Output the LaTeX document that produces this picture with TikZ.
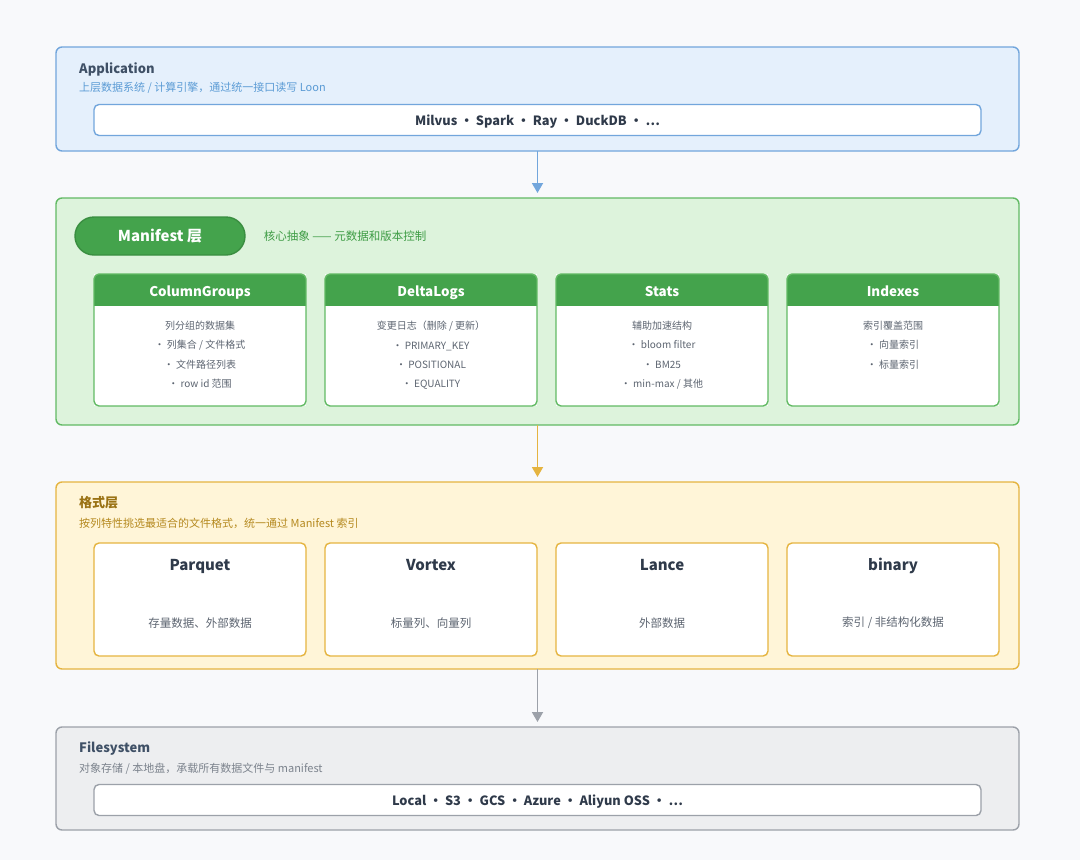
\documentclass[tikz,border=0pt]{standalone}
\usepackage{fontspec}
\setmainfont{Noto Sans CJK SC}
\usepackage{tikz}
\usetikzlibrary{positioning,arrows.meta}
\usepackage{xcolor}
\definecolor{bgpage}{HTML}{F8F9FB}
\definecolor{appfill}{HTML}{E5F0FC}
\definecolor{appline}{HTML}{72A6DC}
\definecolor{apptext}{HTML}{5B9BD5}
\definecolor{mffill}{HTML}{DDF3DC}
\definecolor{mfline}{HTML}{62BA64}
\definecolor{mfdark}{HTML}{44A34C}
\definecolor{mfedge}{HTML}{3A8E41}
\definecolor{mftext}{HTML}{3E9C45}
\definecolor{fmfill}{HTML}{FFF5D8}
\definecolor{fmline}{HTML}{E5B440}
\definecolor{fmtitle}{HTML}{9A7214}
\definecolor{fmtext}{HTML}{B5891F}
\definecolor{fsfill}{HTML}{EDEEF0}
\definecolor{fsline}{HTML}{9CA1A9}
\definecolor{fstext}{HTML}{7C838D}
\definecolor{ink}{HTML}{2F3A4A}
\definecolor{titleink}{HTML}{3F5066}
\definecolor{bodyink}{HTML}{5D6571}

\tikzset{
  layer/.style={line width=1.4pt, rounded corners=6pt, anchor=north west,
    minimum width=963pt, inner sep=0pt, outer sep=0pt},
  layertitle/.style={anchor=west, inner sep=0pt, font=\bfseries\fontsize{13}{15}\selectfont},
  layernote/.style={anchor=west, inner sep=0pt, font=\fontsize{11}{13}\selectfont},
  itembox/.style={fill=white, line width=1.4pt, rounded corners=5pt, minimum width=887pt,
    minimum height=31pt, inner sep=0pt, text depth=0pt, text=ink,
    font=\bfseries\fontsize{12.8}{15}\selectfont},
  card/.style={fill=white, minimum width=212pt, minimum height=#1, inner sep=0pt, outer sep=0pt},
  cardhead/.style={anchor=base, inner sep=0pt, text=white, font=\bfseries\fontsize{13.4}{16}\selectfont},
  cardbody/.style={anchor=north, inner sep=0pt, align=center, text=bodyink,
    font=\fontsize{10}{19.3}\selectfont},
  fmthead/.style={anchor=base, inner sep=0pt, text=ink, font=\bfseries\fontsize{15}{18}\selectfont},
  fmtbody/.style={inner sep=0pt, text=bodyink, font=\fontsize{11.5}{14}\selectfont},
  flow/.style={->, line width=1.8pt, shorten >=5pt}
}

\begin{document}
\begin{tikzpicture}[x=1pt, y=-1pt, >={Triangle[length=10pt,width=11pt]}]
\useasboundingbox[fill=bgpage] (0,0) rectangle (1080,860);

% Application
\node[layer, draw=appline, fill=appfill, minimum height=104pt] (app) at (56,47) {};
\node[layertitle, text=titleink] (apptitle) at (79,69) {Application};
\node[layernote, text=apptext] (appnote) at (79,88) {上层数据系统 / 计算引擎，通过统一接口读写 Loon};
\node[itembox, draw=appline] (appitems) at (537.5,120) {Milvus · Spark · Ray · DuckDB · ⋯};

% Manifest
\node[layer, draw=mfline, fill=mffill, minimum height=227pt] (mfst) at (56,198) {};
\node[draw=mfedge, fill=mfdark, line width=1.4pt, rounded corners=19pt, minimum width=170pt,
  minimum height=38pt, text=white, font=\bfseries\fontsize{15}{18}\selectfont] (mfsttag) at (160,236) {Manifest 层};
\node[layernote, text=mftext, font=\fontsize{11.5}{13}\selectfont, right=18pt of mfsttag] (mfstnote) {核心抽象 —— 元数据和版本控制};

\foreach \nm/\cx/\hd/\bd in {
    cg/200/ColumnGroups/{列分组的数据集\\· 列集合 / 文件格式\\· 文件路径列表\\· row id 范围},
    dl/431/DeltaLogs/{变更日志（删除 / 更新）\\· PRIMARY\_KEY\\· POSITIONAL\\· EQUALITY},
    st/662/Stats/{辅助加速结构\\· bloom filter\\· BM25\\· min-max / 其他},
    ix/893/Indexes/{索引覆盖范围\\· 向量索引\\· 标量索引}}{
  \node[card=132pt] (\nm) at (\cx,340) {};
  \begin{scope}
    \clip[rounded corners=5pt] (\nm.south west) rectangle (\nm.north east);
    \fill[mfdark] (\nm.north west) rectangle ([yshift=-32pt]\nm.north east);
  \end{scope}
  \draw[mfline, line width=1.4pt, rounded corners=5pt] (\nm.south west) rectangle (\nm.north east);
  \node[cardhead] (\nm-hd) at (\cx,296) {\hd};
  \node[cardbody] (\nm-bd) at (\cx,321) {\bd};
}

% 格式层
\node[layer, draw=fmline, fill=fmfill, minimum height=187pt] (fmt) at (56,482) {};
\node[layertitle, text=fmtitle] (fmttitle) at (79,503) {格式层};
\node[layernote, text=fmtext] (fmtnote) at (79,523) {按列特性挑选最适合的文件格式，统一通过 Manifest 索引};

\foreach \nm/\cx/\hd/\bd in {
    pq/200/Parquet/存量数据、外部数据,
    vx/431/Vortex/标量列、向量列,
    lc/662/Lance/外部数据,
    bn/893/binary/{索引 / 非结构化数据}}{
  \node[card=113pt, draw=fmline, line width=1.4pt, rounded corners=5pt] (\nm) at (\cx,599.5) {};
  \node[fmthead] (\nm-hd) at (\cx,570.5) {\hd};
  \node[fmtbody] (\nm-bd) at (\cx,623) {\bd};
}

% Filesystem
\node[layer, draw=fsline, fill=fsfill, minimum height=103pt] (fs) at (56,727) {};
\node[layertitle, text=titleink] (fstitle) at (79,749) {Filesystem};
\node[layernote, text=fstext] (fsnote) at (79,769) {对象存储 / 本地盘，承载所有数据文件与 manifest};
\node[itembox, draw=fsline] (fsitems) at (537.5,800) {Local · S3 · GCS · Azure · Aliyun OSS · ⋯};

% flow between layers
\draw[flow, appline] (app.south) -- (mfst.north);
\draw[flow, fmline] (mfst.south) -- (fmt.north);
\draw[flow, fsline] (fmt.south) -- (fs.north);
\end{tikzpicture}
\end{document}
